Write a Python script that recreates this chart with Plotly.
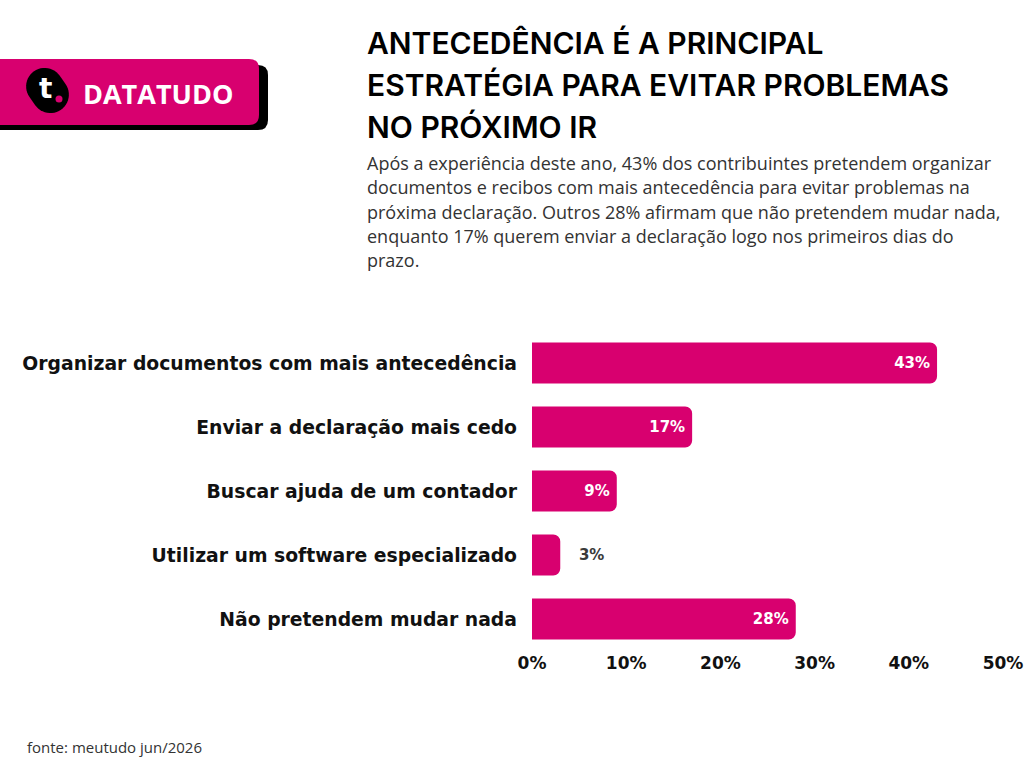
import math
import plotly.graph_objects as go

W, H = 1024, 768
ML, MR, MT, MB = 532, 21, 331, 117

categories = [
    "Organizar documentos com mais antecedência",
    "Enviar a declaração mais cedo",
    "Buscar ajuda de um contador",
    "Utilizar um software especializado",
    "Não pretendem mudar nada",
]
values = [43, 17, 9, 3, 28]
value_labels = ["43%", "17%", "9%", "\u00a0\u00a0\u00a03%", "28%"]
label_positions = ["inside", "inside", "inside", "outside", "inside"]
label_colors = ["#ffffff", "#ffffff", "#ffffff", "#3a3a3a", "#ffffff"]
tick_vals = [0, 10, 20, 30, 40, 50]
tick_text = ["0%", "10%", "20%", "30%", "40%", "50%"]

title_lines = [
    "ANTECEDÊNCIA É A PRINCIPAL",
    "ESTRATÉGIA PARA EVITAR PROBLEMAS",
    "NO PRÓXIMO IR",
]
subtitle_lines = [
    "Após a experiência deste ano, 43% dos contribuintes pretendem organizar",
    "documentos e recibos com mais antecedência para evitar problemas na",
    "próxima declaração. Outros 28% afirmam que não pretendem mudar nada,",
    "enquanto 17% querem enviar a declaração logo nos primeiros dias do",
    "prazo.",
]
source_text = "fonte: meutudo jun/2026"
brand = "DATATUDO"

PINK = "#d8006f"
LABEL_FONT = "DejaVu Sans"


def px(x):
    return (x - ML) / (W - ML - MR)


def py(y):
    return (H - MB - y) / (H - MT - MB)


def rrect(x0, y0, x1, y1, r):
    pts = [
        f"M{px(x0 + r)},{py(y0)}",
        f"L{px(x1 - r)},{py(y0)}",
        f"Q{px(x1)},{py(y0)} {px(x1)},{py(y0 + r)}",
        f"L{px(x1)},{py(y1 - r)}",
        f"Q{px(x1)},{py(y1)} {px(x1 - r)},{py(y1)}",
        f"L{px(x0 + r)},{py(y1)}",
        f"Q{px(x0)},{py(y1)} {px(x0)},{py(y1 - r)}",
        f"L{px(x0)},{py(y0 + r)}",
        f"Q{px(x0)},{py(y0)} {px(x0 + r)},{py(y0)}",
        "Z",
    ]
    return " ".join(pts)


def stadium(cx, cy, half, r, ang_deg, n=24):
    a = math.radians(ang_deg)
    ux, uy = math.cos(a), math.sin(a)
    pts = []
    for end in (1, -1):
        ex, ey = cx + end * half * ux, cy + end * half * uy
        for k in range(n + 1):
            t = a - math.pi / 2 + math.pi * k / n + (0 if end == 1 else math.pi)
            pts.append((ex + r * math.cos(t), ey + r * math.sin(t)))
    return "M" + " L".join(f"{px(x)},{py(y)}" for x, y in pts) + " Z"


fig = go.Figure(
    go.Bar(
        x=values,
        y=categories,
        orientation="h",
        marker=dict(color=PINK, line=dict(width=0)),
        width=0.64,
        text=value_labels,
        textposition=label_positions,
        textfont=dict(family=LABEL_FONT, size=15, color=label_colors, weight="bold"),
        insidetextanchor="end",
        constraintext="none",
        cliponaxis=False,
        hoverinfo="skip",
    )
)

fig.update_layout(
    width=W,
    height=H,
    margin=dict(l=ML, r=MR, t=MT, b=MB, autoexpand=False),
    paper_bgcolor="white",
    plot_bgcolor="white",
    showlegend=False,
    barcornerradius=7,
    xaxis=dict(
        range=[0, 50],
        tickvals=tick_vals,
        ticktext=tick_text,
        showgrid=False,
        zeroline=False,
        showline=False,
        ticks="",
        ticklabeloverflow="allow",
        tickfont=dict(family=LABEL_FONT, size=17, color="#111111", weight="bold"),
        fixedrange=True,
    ),
    yaxis=dict(
        categoryorder="array",
        categoryarray=categories[::-1],
        range=[-0.5, 4.5],
        showgrid=False,
        zeroline=False,
        showline=False,
        ticks="",
        ticklabelstandoff=14,
        tickfont=dict(family=LABEL_FONT, size=18.8, color="#111111", weight="bold"),
        fixedrange=True,
    ),
)

shapes = []
# logo shadow and badge
shapes.append(dict(type="path", xref="paper", yref="paper", path=rrect(-20, 65, 268, 130, 10),
                   fillcolor="#000000", line=dict(width=0), layer="above"))
shapes.append(dict(type="path", xref="paper", yref="paper", path=rrect(-20, 59, 259, 125, 10),
                   fillcolor=PINK, line=dict(width=0), layer="above"))
shapes.append(dict(type="path", xref="paper", yref="paper", path=stadium(47.5, 90.5, 5, 18.5, 55),
                   fillcolor="#000000", line=dict(width=0), layer="above"))
shapes.append(dict(type="circle", xref="paper", yref="paper",
                   x0=px(55.5), x1=px(62.5), y0=py(95.5), y1=py(102.5),
                   fillcolor=PINK, line=dict(width=0), layer="above"))
fig.update_layout(shapes=shapes)

annotations = []
annotations.append(dict(text="<b>t</b>", x=px(45), y=py(89), xref="paper", yref="paper",
                        showarrow=False, xanchor="center", yanchor="middle",
                        font=dict(family="DejaVu Sans", size=28, color="white")))
annotations.append(dict(text=f"<b>{brand}</b>", x=px(81), y=py(93), xref="paper", yref="paper",
                        showarrow=False, xanchor="left", yanchor="middle",
                        font=dict(family="Open Sans", size=27, color="white")))
for i, line in enumerate(title_lines):
    annotations.append(dict(text=line, x=px(365), y=py(43 + 42 * i), xref="paper", yref="paper",
                            showarrow=False, xanchor="left", yanchor="middle",
                            font=dict(family="Inter", size=30, color="#000000", weight=600)))
for i, line in enumerate(subtitle_lines):
    annotations.append(dict(text=line, x=px(365), y=py(163 + 24.3 * i), xref="paper", yref="paper",
                            showarrow=False, xanchor="left", yanchor="middle",
                            font=dict(family="Open Sans", size=18, color="#333333")))
annotations.append(dict(text=source_text, x=px(25), y=py(747), xref="paper", yref="paper",
                        showarrow=False, xanchor="left", yanchor="middle",
                        font=dict(family="Open Sans", size=15, color="#333333")))
fig.update_layout(annotations=annotations)

fig.write_html("out.html")
